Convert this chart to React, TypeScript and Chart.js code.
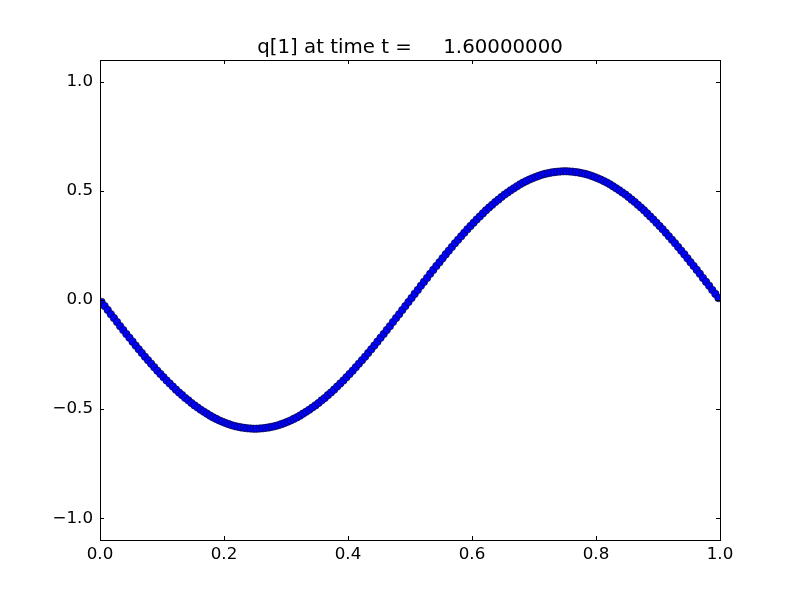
import React, { useEffect, useRef } from "react";
import { Chart, registerables } from "chart.js";

Chart.register(...registerables);

const titleText = "q[1] at time t =     1.60000000";
const xTicks = [0.0, 0.2, 0.4, 0.6, 0.8, 1.0];
const yTicks = [-1.0, -0.5, 0.0, 0.5, 1.0];

const xs = [
  0.0025, 0.0075, 0.0125, 0.0175, 0.0225, 0.0275, 0.0325, 0.0375, 0.0425, 0.0475,
  0.0525, 0.0575, 0.0625, 0.0675, 0.0725, 0.0775, 0.0825, 0.0875, 0.0925, 0.0975,
  0.1025, 0.1075, 0.1125, 0.1175, 0.1225, 0.1275, 0.1325, 0.1375, 0.1425, 0.1475,
  0.1525, 0.1575, 0.1625, 0.1675, 0.1725, 0.1775, 0.1825, 0.1875, 0.1925, 0.1975,
  0.2025, 0.2075, 0.2125, 0.2175, 0.2225, 0.2275, 0.2325, 0.2375, 0.2425, 0.2475,
  0.2525, 0.2575, 0.2625, 0.2675, 0.2725, 0.2775, 0.2825, 0.2875, 0.2925, 0.2975,
  0.3025, 0.3075, 0.3125, 0.3175, 0.3225, 0.3275, 0.3325, 0.3375, 0.3425, 0.3475,
  0.3525, 0.3575, 0.3625, 0.3675, 0.3725, 0.3775, 0.3825, 0.3875, 0.3925, 0.3975,
  0.4025, 0.4075, 0.4125, 0.4175, 0.4225, 0.4275, 0.4325, 0.4375, 0.4425, 0.4475,
  0.4525, 0.4575, 0.4625, 0.4675, 0.4725, 0.4775, 0.4825, 0.4875, 0.4925, 0.4975,
  0.5025, 0.5075, 0.5125, 0.5175, 0.5225, 0.5275, 0.5325, 0.5375, 0.5425, 0.5475,
  0.5525, 0.5575, 0.5625, 0.5675, 0.5725, 0.5775, 0.5825, 0.5875, 0.5925, 0.5975,
  0.6025, 0.6075, 0.6125, 0.6175, 0.6225, 0.6275, 0.6325, 0.6375, 0.6425, 0.6475,
  0.6525, 0.6575, 0.6625, 0.6675, 0.6725, 0.6775, 0.6825, 0.6875, 0.6925, 0.6975,
  0.7025, 0.7075, 0.7125, 0.7175, 0.7225, 0.7275, 0.7325, 0.7375, 0.7425, 0.7475,
  0.7525, 0.7575, 0.7625, 0.7675, 0.7725, 0.7775, 0.7825, 0.7875, 0.7925, 0.7975,
  0.8025, 0.8075, 0.8125, 0.8175, 0.8225, 0.8275, 0.8325, 0.8375, 0.8425, 0.8475,
  0.8525, 0.8575, 0.8625, 0.8675, 0.8725, 0.8775, 0.8825, 0.8875, 0.8925, 0.8975,
  0.9025, 0.9075, 0.9125, 0.9175, 0.9225, 0.9275, 0.9325, 0.9375, 0.9425, 0.9475,
  0.9525, 0.9575, 0.9625, 0.9675, 0.9725, 0.9775, 0.9825, 0.9875, 0.9925, 0.9975,
];

const q1 = [
  -0.009, -0.028, -0.046, -0.065, -0.083, -0.101, -0.120, -0.138, -0.156, -0.173,
  -0.191, -0.209, -0.226, -0.243, -0.260, -0.276, -0.292, -0.308, -0.324, -0.339,
  -0.354, -0.369, -0.383, -0.397, -0.411, -0.424, -0.436, -0.449, -0.460, -0.472,
  -0.483, -0.493, -0.503, -0.512, -0.521, -0.530, -0.538, -0.545, -0.552, -0.558,
  -0.564, -0.569, -0.574, -0.578, -0.581, -0.584, -0.586, -0.588, -0.589, -0.590,
  -0.590, -0.589, -0.588, -0.586, -0.584, -0.581, -0.578, -0.574, -0.569, -0.564,
  -0.558, -0.552, -0.545, -0.538, -0.530, -0.521, -0.512, -0.503, -0.493, -0.483,
  -0.472, -0.460, -0.449, -0.436, -0.424, -0.411, -0.397, -0.383, -0.369, -0.354,
  -0.339, -0.324, -0.308, -0.292, -0.276, -0.260, -0.243, -0.226, -0.209, -0.191,
  -0.173, -0.156, -0.138, -0.120, -0.101, -0.083, -0.065, -0.046, -0.028, -0.009,
  0.009, 0.028, 0.046, 0.065, 0.083, 0.101, 0.120, 0.138, 0.156, 0.173,
  0.191, 0.209, 0.226, 0.243, 0.260, 0.276, 0.292, 0.308, 0.324, 0.339,
  0.354, 0.369, 0.383, 0.397, 0.411, 0.424, 0.436, 0.449, 0.460, 0.472,
  0.483, 0.493, 0.503, 0.512, 0.521, 0.530, 0.538, 0.545, 0.552, 0.558,
  0.564, 0.569, 0.574, 0.578, 0.581, 0.584, 0.586, 0.588, 0.589, 0.590,
  0.590, 0.589, 0.588, 0.586, 0.584, 0.581, 0.578, 0.574, 0.569, 0.564,
  0.558, 0.552, 0.545, 0.538, 0.530, 0.521, 0.512, 0.503, 0.493, 0.483,
  0.472, 0.460, 0.449, 0.436, 0.424, 0.411, 0.397, 0.383, 0.369, 0.354,
  0.339, 0.324, 0.308, 0.292, 0.276, 0.260, 0.243, 0.226, 0.209, 0.191,
  0.173, 0.156, 0.138, 0.120, 0.101, 0.083, 0.065, 0.046, 0.028, 0.009,
];

const FONT = "'DejaVu Sans', sans-serif";

const fmt = (v: number) => {
  const s = Math.abs(v).toFixed(1);
  return v < -1e-9 ? "\u2212" + s : s;
};

const framePlugin = {
  id: "frame",
  afterDraw(chart: any) {
    const { ctx, chartArea } = chart;
    const { left, right, top, bottom } = chartArea;
    const xs_ = chart.scales.x;
    const ys_ = chart.scales.y;
    ctx.save();
    ctx.strokeStyle = "#000";
    ctx.lineWidth = 1;
    ctx.beginPath();
    xTicks.forEach((v) => {
      const px = Math.round(xs_.getPixelForValue(v)) + 0.5;
      ctx.moveTo(px, bottom);
      ctx.lineTo(px, bottom - 4);
      ctx.moveTo(px, top);
      ctx.lineTo(px, top + 4);
    });
    yTicks.forEach((v) => {
      const py = Math.round(ys_.getPixelForValue(v)) + 0.5;
      ctx.moveTo(left, py);
      ctx.lineTo(left + 4, py);
      ctx.moveTo(right, py);
      ctx.lineTo(right - 4, py);
    });
    ctx.stroke();
    ctx.strokeRect(left + 0.5, top + 0.5, right - left, bottom - top);
    ctx.fillStyle = "#000";
    ctx.font = `19.8px ${FONT}`;
    ctx.textAlign = "center";
    ctx.textBaseline = "alphabetic";
    ctx.fillText(titleText, (left + right) / 2, top - 7);
    ctx.restore();
  },
};

export default function App() {
  const ref = useRef<HTMLCanvasElement | null>(null);
  useEffect(() => {
    if (!ref.current) return;
    const data = xs.map((x, i) => ({ x, y: q1[i] }));
    const chart = new Chart(ref.current, {
      type: "scatter",
      data: {
        datasets: [
          {
            data,
            showLine: false,
            pointRadius: 3.8,
            pointBorderWidth: 0.5,
            pointBackgroundColor: "#0000ff",
            pointBorderColor: "#000000",
          },
        ],
      },
      plugins: [framePlugin],
      options: {
        animation: false,
        responsive: false,
        layout: { padding: { top: 60, right: 80, left: 0, bottom: 0 } },
        plugins: {
          legend: { display: false },
          title: { display: false },
          tooltip: { enabled: false },
        },
        scales: {
          x: {
            type: "linear",
            min: 0,
            max: 1,
            grid: { display: false, drawTicks: false },
            border: { display: false },
            afterFit: (s: any) => {
              s.height = 60;
            },
            afterBuildTicks: (s: any) => {
              s.ticks = xTicks.map((v) => ({ value: v }));
            },
            ticks: {
              color: "#000",
              padding: 5,
              maxRotation: 0,
              font: { family: FONT, size: 16.7 },
              callback: (v: any) => fmt(Number(v)),
            },
          },
          y: {
            type: "linear",
            min: -1.1,
            max: 1.1,
            grid: { display: false, drawTicks: false },
            border: { display: false },
            afterFit: (s: any) => {
              s.width = 100;
            },
            afterBuildTicks: (s: any) => {
              s.ticks = yTicks.map((v) => ({ value: v }));
            },
            ticks: {
              color: "#000",
              padding: 7,
              font: { family: FONT, size: 16.7 },
              callback: (v: any) => fmt(Number(v)),
            },
          },
        },
      },
    });
    return () => chart.destroy();
  }, []);
  return (
    <div style={{ position: "absolute", left: 0, top: 0, width: 800, height: 600, background: "#fff" }}>
      <canvas ref={ref} width={800} height={600} style={{ width: 800, height: 600 }} />
    </div>
  );
}
